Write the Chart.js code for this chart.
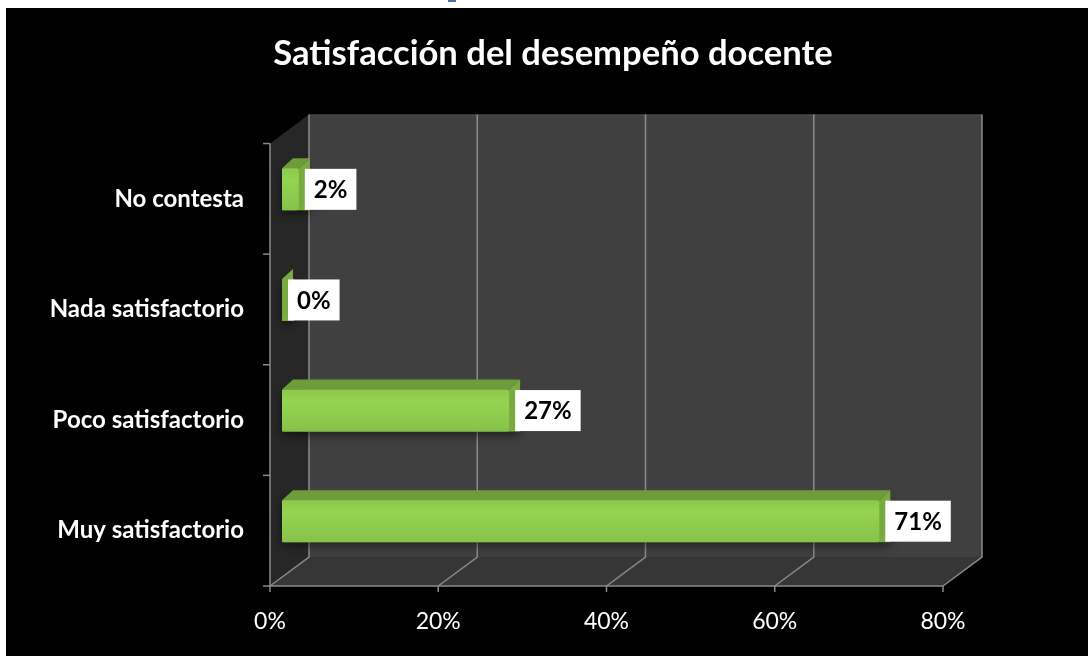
<!DOCTYPE html>
<html>
<head>
<meta charset="utf-8">
<script src="https://cdn.jsdelivr.net/npm/chart.js@4.4.0/dist/chart.umd.min.js"></script>
<style>
  html, body { margin: 0; padding: 0; background: #fff; }
  body { width: 1091px; height: 656px; position: relative; overflow: hidden; }
  .frame { position: absolute; left: 6px; top: 8px; width: 1082px; height: 648px; background: #000; }
  .cut { position: absolute; left: 448px; top: 0; width: 8px; height: 2px; background: #4a6fa5; }
</style>
</head>
<body>
<div class="cut"></div>
<div class="frame"><canvas id="chart" width="1082" height="648"></canvas></div>
<script>
const categories = ["No contesta", "Nada satisfactorio", "Poco satisfactorio", "Muy satisfactorio"];
const percentages = [2, 0, 27, 71];
const xTicks = [0, 20, 40, 60, 80];

// depth of the box (back wall) and of the bars
const wallDx = 39, wallDy = -29;
const barShiftX = 12, barShiftY = -9.5;
const barDx = 11, barDy = -10;

const scene3d = {
  id: "scene3d",
  afterLayout(chart) {
    // center the title over the whole frame, not just the plot box
    const t = chart.titleBlock;
    t.left = 12;
    t.right = chart.width;
    t.width = t.right - t.left;
  },
  beforeDatasetsDraw(chart) {
    const { ctx } = chart;
    const xs = chart.scales.x, ys = chart.scales.y;
    const L = xs.left, R = xs.right, T = ys.top, B = ys.bottom;
    ctx.save();
    // left wall
    ctx.fillStyle = "#272727";
    ctx.beginPath();
    ctx.moveTo(L, T); ctx.lineTo(L + wallDx, T + wallDy);
    ctx.lineTo(L + wallDx, B + wallDy); ctx.lineTo(L, B);
    ctx.closePath(); ctx.fill();
    // floor
    ctx.fillStyle = "#363636";
    ctx.beginPath();
    ctx.moveTo(L, B); ctx.lineTo(L + wallDx, B + wallDy);
    ctx.lineTo(R + wallDx, B + wallDy); ctx.lineTo(R, B);
    ctx.closePath(); ctx.fill();
    // back wall
    ctx.fillStyle = "#404040";
    ctx.fillRect(L + wallDx, T + wallDy, R - L, B - T);
    ctx.strokeStyle = "#4c4c4c";
    ctx.lineWidth = 1;
    ctx.beginPath();
    ctx.moveTo(L + wallDx, T + wallDy + 0.5); ctx.lineTo(R + wallDx, T + wallDy + 0.5);
    ctx.stroke();
    // grid lines on back wall and floor
    ctx.strokeStyle = "#8a8a8a";
    ctx.lineWidth = 1.5;
    xTicks.forEach((v) => {
      const px = xs.getPixelForValue(v);
      ctx.beginPath();
      ctx.moveTo(px + wallDx, T + wallDy);
      ctx.lineTo(px + wallDx, B + wallDy);
      ctx.lineTo(px, B);
      ctx.stroke();
      // tick mark under front axis
      ctx.beginPath();
      ctx.moveTo(px, B); ctx.lineTo(px, B + 6);
      ctx.stroke();
    });
    // front axes
    ctx.beginPath();
    ctx.moveTo(L, T); ctx.lineTo(L, B); ctx.lineTo(R, B);
    ctx.stroke();
    const band = (B - T) / categories.length;
    for (let i = 0; i <= categories.length; i++) {
      ctx.beginPath();
      ctx.moveTo(L - 7, T + i * band); ctx.lineTo(L, T + i * band);
      ctx.stroke();
    }
    ctx.restore();
  },
  afterDatasetsDraw(chart) {
    const { ctx } = chart;
    const meta = chart.getDatasetMeta(0);
    ctx.save();
    meta.data.forEach((bar, i) => {
      const p = bar.getProps(["x", "y", "base", "height"], true);
      const x0 = p.base + barShiftX;
      const x1 = p.x + barShiftX;
      const yT = p.y - p.height / 2 + barShiftY;
      const yB = p.y + p.height / 2 + barShiftY;

      // shadow under the bar
      ctx.save();
      ctx.shadowColor = "rgba(0,0,0,0.55)";
      ctx.shadowBlur = 10;
      ctx.shadowOffsetY = 3;
      ctx.fillStyle = "#7aae42";
      ctx.fillRect(x0, yT, Math.max(x1 - x0, 1) + barDx, yB - yT);
      ctx.restore();

      // top face
      ctx.fillStyle = "#6f9c3b";
      ctx.beginPath();
      ctx.moveTo(x0, yT); ctx.lineTo(x0 + barDx, yT + barDy);
      ctx.lineTo(x1 + barDx, yT + barDy); ctx.lineTo(x1, yT);
      ctx.closePath(); ctx.fill();
      // right face
      ctx.fillStyle = "#78aa3f";
      ctx.beginPath();
      ctx.moveTo(x1, yT); ctx.lineTo(x1 + barDx, yT + barDy);
      ctx.lineTo(x1 + barDx, yB + barDy); ctx.lineTo(x1, yB);
      ctx.closePath(); ctx.fill();
      // front face
      if (x1 - x0 > 0) {
        const g = ctx.createLinearGradient(0, yT, 0, yB);
        g.addColorStop(0, "#8cc94c");
        g.addColorStop(0.3, "#95d352");
        g.addColorStop(1, "#86c249");
        ctx.fillStyle = g;
        ctx.beginPath();
        ctx.roundRect(x0, yT, x1 - x0, yB - yT, 2);
        ctx.fill();
      }

      // value label
      const txt = percentages[i] + "%";
      ctx.font = "bold 24px Lato";
      const w = ctx.measureText(txt).width + 18;
      const bx = x1 + 6;
      const cy = (yT + yB) / 2;
      ctx.fillStyle = "#fff";
      ctx.fillRect(bx, cy - 20.5, w, 41);
      ctx.fillStyle = "#000";
      ctx.textAlign = "center";
      ctx.textBaseline = "middle";
      ctx.fillText(txt, bx + w / 2, cy + 1);
    });
    ctx.restore();
  },
};

new Chart(document.getElementById("chart"), {
  type: "bar",
  data: {
    labels: categories,
    datasets: [
      {
        data: percentages,
        backgroundColor: "rgba(0,0,0,0)",
        barThickness: 42,
      },
    ],
  },
  options: {
    indexAxis: "y",
    responsive: false,
    animation: false,
    devicePixelRatio: 1,
    layout: { padding: { left: 0, right: 145, top: 0, bottom: 0 } },
    plugins: {
      legend: { display: false },
      tooltip: { enabled: false },
      title: {
        display: true,
        text: "Satisfacción del desempeño docente",
        color: "#fff",
        font: { family: "Lato", size: 34.6, weight: "bold" },
        padding: { top: 25, bottom: 69 },
      },
    },
    scales: {
      x: {
        min: 0,
        max: 80,
        afterBuildTicks: (s) => { s.ticks = xTicks.map((v) => ({ value: v })); },
        ticks: {
          color: "#fff",
          font: { family: "Lato", size: 23 },
          padding: 22,
          callback: (v) => v + "%",
        },
        grid: { display: false, drawTicks: false },
        border: { display: false },
        afterFit: (s) => { s.height = 70; },
      },
      y: {
        ticks: {
          color: "#fff",
          font: { family: "Lato", size: 24, weight: "bold" },
          padding: 26,
        },
        grid: { display: false, drawTicks: false },
        border: { display: false },
        afterFit: (s) => { s.width = 264; },
      },
    },
  },
  plugins: [scene3d],
});
</script>
</body>
</html>
